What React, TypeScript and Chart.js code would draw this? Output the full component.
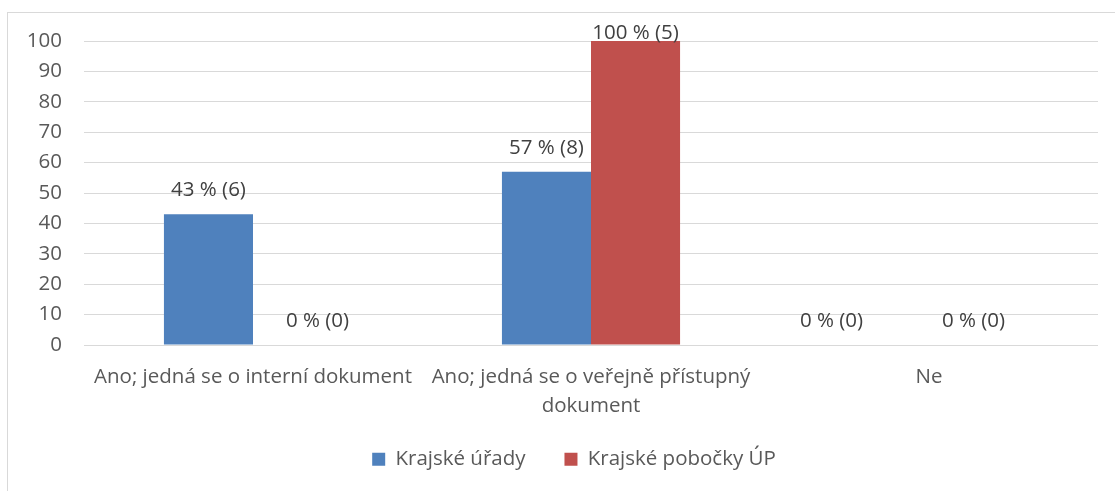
import React, { useEffect, useRef } from "react";
import { Chart, registerables } from "chart.js";

Chart.register(...registerables);

// ---- data ----
const categories: (string | string[])[] = [
  "Ano; jedná se o interní dokument",
  ["Ano; jedná se o veřejně přístupný", "dokument"],
  "Ne",
];
const seriesNames = ["Krajské úřady", "Krajské pobočky ÚP"];
const uradyPct = [43, 57, 0];
const uradyCount = [6, 8, 0];
const pobockyPct = [0, 100, 0];
const pobockyCount = [0, 5, 0];
const yMin = 0;
const yMax = 100;
const yStep = 10;

const FONT = "'Open Sans', sans-serif";
const FS = 20.5;

const barLabelPlugin = {
  id: "barLabels",
  afterDatasetsDraw(chart: any, _args: any, opts: any) {
    const ctx = chart.ctx;
    ctx.save();
    ctx.font = `${opts.size}px ${opts.family}`;
    ctx.fillStyle = opts.color;
    ctx.textAlign = "center";
    ctx.textBaseline = "alphabetic";
    chart.data.datasets.forEach((ds: any, di: number) => {
      const meta = chart.getDatasetMeta(di);
      meta.data.forEach((bar: any, i: number) => {
        const text = `${ds.data[i]} % (${ds.counts[i]})`;
        const shift = (opts.shifts && opts.shifts[`${di}-${i}`]) || 0;
        const y = Math.max(bar.y - opts.offset, chart.chartArea.top - opts.topClamp);
        ctx.fillText(text, bar.x + shift, y);
      });
    });
    ctx.restore();
  },
};

const legendShiftPlugin = {
  id: "legendShift",
  afterLayout(chart: any, _args: any, opts: any) {
    if (chart.legend) {
      chart.legend.left += opts.dx;
      chart.legend.right += opts.dx;
      chart.legend.top += opts.dy;
      chart.legend.bottom += opts.dy;
    }
  },
};

export default function App() {
  const ref = useRef<HTMLCanvasElement | null>(null);

  useEffect(() => {
    if (!ref.current) return;
    const chart = new Chart(ref.current, {
      type: "bar",
      data: {
        labels: categories,
        datasets: [
          {
            label: seriesNames[0],
            data: uradyPct,
            counts: uradyCount,
            backgroundColor: "#4F81BD",
            borderWidth: 0,
            categoryPercentage: 0.527,
            barPercentage: 1,
          } as any,
          {
            label: seriesNames[1],
            data: pobockyPct,
            counts: pobockyCount,
            backgroundColor: "#C0504D",
            borderWidth: 0,
            categoryPercentage: 0.527,
            barPercentage: 1,
          } as any,
        ],
      },
      options: {
        responsive: false,
        animation: false,
        layout: { padding: { left: 0, right: 17, top: 41, bottom: 0.5 } },
        scales: {
          x: {
            grid: { display: false, drawTicks: false },
            border: { display: false },
            ticks: {
              color: "#595959",
              font: { family: FONT, size: FS, lineHeight: 1.41 },
              padding: 18,
              autoSkip: false,
              maxRotation: 0,
              minRotation: 0,
            },
            afterFit(scale: any) {
              scale.height = 76;
            },
          },
          y: {
            min: yMin,
            max: yMax,
            ticks: {
              stepSize: yStep,
              color: "#595959",
              font: { family: FONT, size: FS },
              padding: 22,
            },
            grid: { color: "#d9d9d9", drawTicks: false, lineWidth: 1 },
            border: { display: false },
            afterFit(scale: any) {
              scale.width = 84;
            },
          },
        },
        plugins: {
          legend: {
            position: "bottom",
            labels: {
              boxWidth: 13,
              boxHeight: 13,
              padding: 39,
              color: "#595959",
              font: { family: FONT, size: FS },
            },
          },
          tooltip: { enabled: false },
          barLabels: {
            size: FS,
            family: FONT,
            color: "#404040",
            offset: 18,
            topClamp: 2.5,
            shifts: { "1-0": 20, "0-2": -53 },
          },
          legendShift: { dx: 25, dy: -11 },
        } as any,
      },
      plugins: [barLabelPlugin, legendShiftPlugin],
    });
    return () => chart.destroy();
  }, []);

  return (
    <>
      <div
        style={{
          position: "absolute",
          left: 7,
          top: 12,
          width: 1108,
          height: 479,
          boxSizing: "border-box",
          borderLeft: "1px solid #d9d9d9",
          borderTop: "1px solid #d9d9d9",
        }}
      />
      <canvas
        ref={ref}
        width={1115}
        height={491}
        style={{ position: "absolute", left: 0, top: 0, width: 1115, height: 491 }}
      />
    </>
  );
}
